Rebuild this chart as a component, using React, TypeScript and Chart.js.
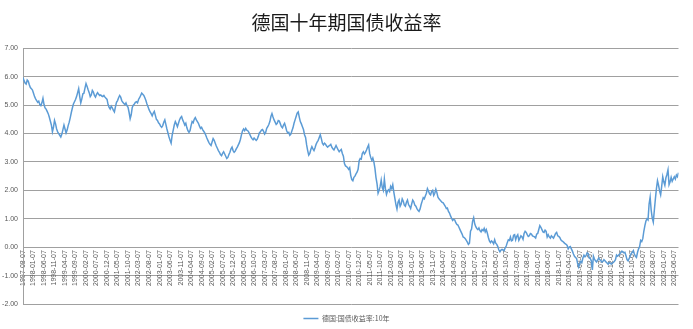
import React, { useEffect, useRef } from 'react';
import { Chart, registerables } from 'chart.js';

Chart.register(...registerables);

const chartTitle = '德国十年期国债收益率';
const seriesName = '德国:国债收益率:10年';

const tickLabels = [
  '1997-08-07', '1998-01-07', '1998-06-07', '1998-11-07', '1999-04-07', '1999-09-07',
  '2000-02-07', '2000-07-07', '2000-12-07', '2001-05-07', '2001-10-07', '2002-03-07',
  '2002-08-07', '2003-01-07', '2003-06-07', '2003-11-07', '2004-04-07', '2004-09-07',
  '2005-02-07', '2005-07-07', '2005-12-07', '2006-05-07', '2006-10-07', '2007-03-07',
  '2007-08-07', '2008-01-07', '2008-06-07', '2008-11-07', '2009-04-07', '2009-09-07',
  '2010-02-07', '2010-07-07', '2010-12-07', '2011-05-07', '2011-10-07', '2012-03-07',
  '2012-08-07', '2013-01-07', '2013-06-07', '2013-11-07', '2014-04-07', '2014-09-07',
  '2015-02-07', '2015-07-07', '2015-12-07', '2016-05-07', '2016-10-07', '2017-03-07',
  '2017-08-07', '2018-01-07', '2018-06-07', '2018-11-07', '2019-04-07', '2019-09-07',
  '2020-02-07', '2020-07-07', '2020-12-07', '2021-05-07', '2021-10-07', '2022-03-07',
  '2022-08-07', '2023-01-07', '2023-06-07',
];

// semi-monthly readings (7th and 22nd of each month)
const y1997 = [5.97, 5.86, 5.78, 5.74, 5.88, 5.84, 5.72, 5.62, 5.58, 5.53];
const y1998 = [5.42, 5.30, 5.22, 5.16, 5.10, 5.14, 5.02, 4.98, 5.08, 5.24, 5.02, 4.90, 4.86, 4.78, 4.70, 4.58, 4.44, 4.30, 4.06, 4.22, 4.46, 4.34, 4.16, 4.06];
const y1999 = [4.00, 3.94, 3.88, 3.98, 4.14, 4.30, 4.16, 4.02, 4.12, 4.28, 4.40, 4.56, 4.74, 4.90, 5.04, 5.12, 5.20, 5.30, 5.44, 5.58, 5.30, 5.08, 5.22, 5.40];
const y2000 = [5.42, 5.60, 5.76, 5.66, 5.54, 5.44, 5.30, 5.36, 5.52, 5.46, 5.34, 5.28, 5.38, 5.44, 5.38, 5.34, 5.36, 5.32, 5.30, 5.34, 5.28, 5.24, 5.20, 5.02];
const y2001 = [4.92, 4.86, 4.96, 4.90, 4.82, 4.76, 4.94, 5.10, 5.16, 5.26, 5.34, 5.28, 5.16, 5.10, 5.06, 5.02, 5.08, 4.98, 4.92, 4.74, 4.52, 4.66, 4.92, 5.00];
const y2002 = [5.04, 5.10, 5.12, 5.08, 5.20, 5.26, 5.34, 5.42, 5.38, 5.34, 5.26, 5.16, 5.04, 4.94, 4.84, 4.76, 4.70, 4.62, 4.72, 4.78, 4.64, 4.50, 4.46, 4.38];
const y2003 = [4.34, 4.26, 4.22, 4.28, 4.40, 4.48, 4.32, 4.16, 4.02, 3.88, 3.76, 3.66, 3.94, 4.12, 4.30, 4.42, 4.34, 4.24, 4.36, 4.48, 4.56, 4.60, 4.48, 4.40];
const y2004 = [4.30, 4.36, 4.20, 4.10, 4.04, 4.10, 4.28, 4.42, 4.38, 4.50, 4.56, 4.48, 4.42, 4.36, 4.26, 4.18, 4.22, 4.14, 4.08, 4.02, 3.94, 3.84, 3.76, 3.68];
const y2005 = [3.62, 3.58, 3.70, 3.82, 3.76, 3.66, 3.56, 3.48, 3.40, 3.34, 3.26, 3.22, 3.30, 3.36, 3.28, 3.20, 3.12, 3.16, 3.26, 3.34, 3.46, 3.52, 3.40, 3.34];
const y2006 = [3.38, 3.46, 3.52, 3.60, 3.68, 3.80, 3.96, 4.10, 4.16, 4.10, 4.18, 4.12, 4.10, 4.04, 3.96, 3.88, 3.82, 3.78, 3.84, 3.80, 3.76, 3.80, 3.90, 4.02];
const y2007 = [4.06, 4.12, 4.14, 4.08, 3.98, 4.04, 4.18, 4.24, 4.32, 4.42, 4.60, 4.70, 4.58, 4.48, 4.40, 4.32, 4.36, 4.46, 4.44, 4.34, 4.24, 4.20, 4.30, 4.36];
const y2008 = [4.24, 4.10, 4.02, 4.04, 3.94, 3.98, 4.10, 4.20, 4.36, 4.48, 4.60, 4.72, 4.76, 4.58, 4.42, 4.34, 4.24, 4.14, 3.96, 3.86, 3.60, 3.40, 3.24, 3.30];
const y2009 = [3.44, 3.54, 3.46, 3.40, 3.50, 3.62, 3.70, 3.76, 3.86, 3.96, 3.82, 3.66, 3.60, 3.66, 3.62, 3.56, 3.52, 3.56, 3.58, 3.62, 3.52, 3.46, 3.42, 3.50];
const y2010 = [3.58, 3.50, 3.42, 3.36, 3.40, 3.44, 3.30, 3.20, 2.94, 2.86, 2.84, 2.80, 2.74, 2.80, 2.52, 2.38, 2.34, 2.46, 2.50, 2.58, 2.64, 2.74, 3.04, 3.12];
const y2011 = [3.10, 3.30, 3.36, 3.28, 3.34, 3.42, 3.52, 3.60, 3.30, 3.16, 3.06, 3.14, 3.00, 2.78, 2.46, 2.24, 1.90, 2.00, 2.14, 2.36, 2.10, 2.00, 2.40, 2.06];
const y2012 = [1.86, 1.98, 2.02, 1.96, 2.14, 2.06, 2.20, 1.94, 1.72, 1.50, 1.34, 1.58, 1.66, 1.44, 1.52, 1.70, 1.62, 1.48, 1.44, 1.58, 1.66, 1.50, 1.44, 1.36];
const y2013 = [1.52, 1.66, 1.60, 1.48, 1.44, 1.36, 1.30, 1.26, 1.34, 1.50, 1.62, 1.74, 1.70, 1.80, 1.90, 2.06, 1.98, 1.88, 1.84, 1.96, 2.00, 1.82, 1.90, 2.04];
const y2014 = [1.92, 1.76, 1.70, 1.66, 1.62, 1.58, 1.56, 1.50, 1.44, 1.36, 1.38, 1.26, 1.20, 1.10, 1.02, 0.94, 0.98, 0.96, 0.86, 0.80, 0.78, 0.70, 0.62, 0.54];
const y2015 = [0.46, 0.36, 0.34, 0.30, 0.24, 0.18, 0.10, 0.14, 0.56, 0.64, 0.92, 1.04, 0.82, 0.72, 0.66, 0.62, 0.68, 0.58, 0.54, 0.62, 0.58, 0.66, 0.54, 0.62];
const y2016 = [0.50, 0.34, 0.22, 0.16, 0.22, 0.18, 0.12, 0.26, 0.14, 0.10, 0.02, -0.10, -0.16, -0.10, -0.08, -0.10, -0.12, -0.02, 0.04, 0.16, 0.26, 0.24, 0.36, 0.22];
const y2017 = [0.24, 0.42, 0.44, 0.26, 0.38, 0.44, 0.24, 0.32, 0.40, 0.36, 0.28, 0.48, 0.56, 0.52, 0.44, 0.38, 0.40, 0.48, 0.46, 0.40, 0.38, 0.36, 0.32, 0.46];
const y2018 = [0.48, 0.62, 0.76, 0.70, 0.62, 0.54, 0.52, 0.60, 0.56, 0.36, 0.44, 0.36, 0.32, 0.40, 0.36, 0.32, 0.40, 0.48, 0.52, 0.40, 0.38, 0.34, 0.26, 0.22];
const y2019 = [0.20, 0.16, 0.12, 0.10, 0.06, -0.06, 0.00, 0.02, -0.06, -0.14, -0.24, -0.32, -0.36, -0.40, -0.58, -0.70, -0.58, -0.50, -0.54, -0.38, -0.28, -0.34, -0.30, -0.20];
const y2020 = [-0.22, -0.38, -0.40, -0.48, -0.80, -0.32, -0.42, -0.48, -0.52, -0.46, -0.38, -0.44, -0.46, -0.52, -0.50, -0.44, -0.48, -0.52, -0.56, -0.60, -0.54, -0.56, -0.60, -0.56];
const y2021 = [-0.54, -0.50, -0.44, -0.28, -0.32, -0.28, -0.24, -0.20, -0.14, -0.16, -0.20, -0.18, -0.30, -0.44, -0.48, -0.40, -0.32, -0.22, -0.18, -0.12, -0.24, -0.32, -0.36, -0.18];
const y2022 = [-0.06, 0.02, 0.24, 0.20, 0.30, 0.56, 0.76, 0.92, 1.00, 0.96, 1.52, 1.76, 1.30, 1.02, 0.88, 1.30, 1.70, 2.06, 2.34, 2.18, 1.98, 1.84, 2.14, 2.48];
const y2023 = [2.30, 2.18, 2.44, 2.56, 2.72, 2.20, 2.30, 2.46, 2.32, 2.40, 2.48, 2.40, 2.54, 2.48, 2.62];

const yields = [
  ...y1997, ...y1998, ...y1999, ...y2000, ...y2001, ...y2002, ...y2003, ...y2004,
  ...y2005, ...y2006, ...y2007, ...y2008, ...y2009, ...y2010, ...y2011, ...y2012,
  ...y2013, ...y2014, ...y2015, ...y2016, ...y2017, ...y2018, ...y2019, ...y2020,
  ...y2021, ...y2022, ...y2023,
];

const yMin = -2;
const yMax = 7;

const LABEL_FONT = '"Liberation Sans", Arial, sans-serif';
const CJK_FONT = '"Noto Sans CJK SC", sans-serif';

export default function App() {
  const ref = useRef<HTMLCanvasElement>(null);

  useEffect(() => {
    if (!ref.current) return;
    const chart = new Chart(ref.current, {
      type: 'line',
      data: {
        datasets: [
          {
            label: seriesName,
            data: yields.map((v, i) => ({ x: i, y: v })),
            borderColor: '#5b9bd5',
            backgroundColor: '#5b9bd5',
            borderWidth: 1.5,
            pointRadius: 0,
            tension: 0,
            fill: false,
            pointStyle: 'line',
          },
        ],
      },
      options: {
        responsive: false,
        animation: false,
        devicePixelRatio: 1,
        layout: { padding: { left: 0, right: 0, top: 0, bottom: -3 } },
        plugins: {
          title: {
            display: true,
            text: chartTitle,
            color: '#1a1a1a',
            font: { family: CJK_FONT, size: 19, weight: 'normal' },
            padding: { top: 11, bottom: 14.5 },
          },
          legend: {
            position: 'bottom',
            labels: {
              usePointStyle: true,
              pointStyle: 'line',
              pointStyleWidth: 15,
              boxHeight: 7,
              padding: 11,
              color: '#595959',
              font: { family: CJK_FONT, size: 7 },
            },
          },
          tooltip: { enabled: false },
        },
        scales: {
          x: {
            type: 'linear',
            position: { y: 0 },
            min: 0,
            max: yields.length - 1,
            grid: { display: false, drawTicks: false },
            border: { display: false },
            ticks: {
              stepSize: 10,
              autoSkip: false,
              maxRotation: 90,
              minRotation: 90,
              includeBounds: false,
              padding: 3,
              color: '#595959',
              font: { family: LABEL_FONT, size: 7 },
              callback: (v: any) => {
                const n = Number(v);
                if (n % 10 !== 0) return '';
                return tickLabels[n / 10] ?? '';
              },
            },
          },
          y: {
            min: yMin,
            max: yMax,
            grid: { color: '#a0a0a0', drawTicks: false, lineWidth: 1 },
            border: { display: true, color: '#a0a0a0' },
            ticks: {
              stepSize: 1,
              padding: 5,
              color: '#595959',
              font: { family: LABEL_FONT, size: 7 },
              callback: (v: any) => Number(v).toFixed(2),
            },
            afterFit: (s: any) => {
              s.width = 23;
            },
          },
          yRight: {
            position: 'right',
            display: true,
            grid: { display: false, drawTicks: false },
            border: { display: false },
            ticks: { display: false },
            afterFit: (s: any) => {
              s.width = 14.5;
            },
          },
        },
      } as any,
    });
    return () => chart.destroy();
  }, []);

  return (
    <div style={{ position: 'fixed', left: 0, top: 0, width: 693, height: 329, background: '#ffffff' }}>
      <canvas ref={ref} width={693} height={329} style={{ display: 'block' }} />
    </div>
  );
}
